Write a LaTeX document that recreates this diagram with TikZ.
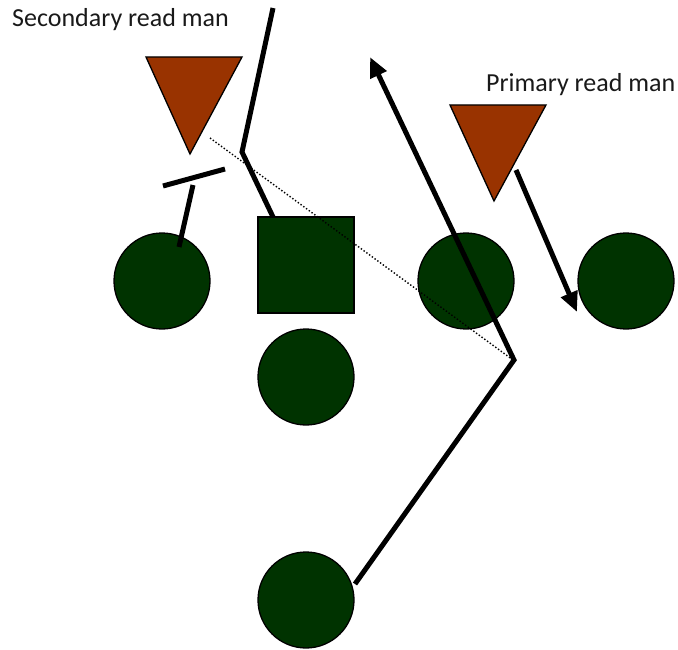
\documentclass[tikz,border=0pt]{standalone}
\usepackage{fontspec}
\setmainfont{Carlito}
\usetikzlibrary{arrows.meta}
\definecolor{plgreen}{HTML}{003300}
\definecolor{defbrown}{HTML}{993300}
\begin{document}
\begin{tikzpicture}[x=1pt,y=-1pt,
  player/.style={circle,draw=black,line width=1.3pt,fill=plgreen,minimum size=96pt,inner sep=0pt},
  center/.style={rectangle,draw=black,line width=1.3pt,fill=plgreen,minimum size=96pt,inner sep=0pt},
  defender/.style={draw=black,line width=1.3pt,fill=defbrown},
  route/.style={line width=5pt,black},
  arr/.style={route,-{Triangle[length=20pt,width=17pt]}},
  readline/.style={line width=1.4pt,dotted,black},
  lbl/.style={font=\fontsize{26}{30}\selectfont,text=black!90,inner sep=0pt}]
\useasboundingbox (0,0) rectangle (678,650);
% defenders
\filldraw[defender] (146,57) -- (242,57) -- (190,154) -- cycle;
\filldraw[defender] (450,105) -- (546,105) -- (494,201) -- cycle;
% offense
\node[player] (lt) at (162,281) {};
\node[center] (c) at (306,265) {};
\node[player] (rg) at (466,281) {};
\node[player] (rt) at (626,281) {};
\node[player] (qb) at (306,377) {};
\node[player] (rb) at (306,600) {};
% labels
\node[lbl,anchor=base west] (sec) at (12,27) {Secondary read man};
\node[lbl,anchor=base west] (pri) at (486,92) {Primary read man};
% coordinates
\coordinate (c1) at (273,217);
\coordinate (c2) at (242,152);
\coordinate (c3) at (273,8);
\coordinate (b1) at (163,186);
\coordinate (b2) at (225,169);
\coordinate (l1) at (179,247);
\coordinate (l2) at (193,185);
\coordinate (d1) at (210,138);
\coordinate (d2) at (513,360);
\coordinate (r0) at (355,584);
\coordinate (r1) at (514,360);
\coordinate (r2) at (370,57);
\coordinate (p1) at (516,170);
\coordinate (p2) at (577,312);
% routes
\draw[readline] (d1) -- (d2);
\draw[route,line join=miter] (c1) -- (c2) -- (c3);
\draw[route] (b1) -- (b2);
\draw[route] (l1) -- (l2);
\draw[arr,line join=miter] (r0) -- (r1) -- (r2);
\draw[arr] (p1) -- (p2);
\end{tikzpicture}
\end{document}
